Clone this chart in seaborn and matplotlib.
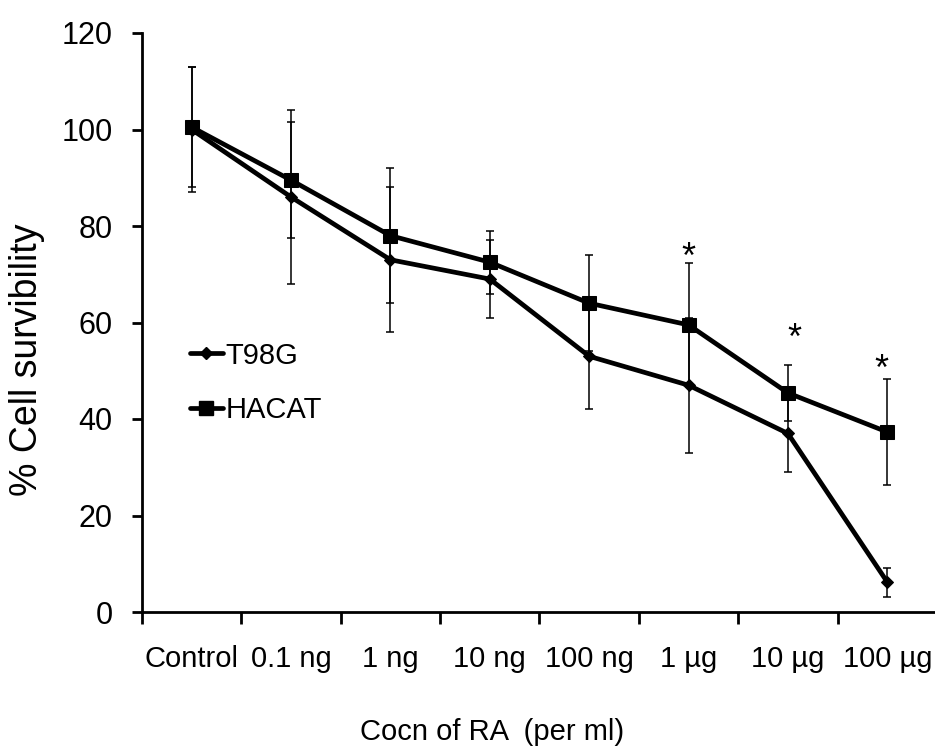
import numpy as np
import pandas as pd
import matplotlib
matplotlib.use("Agg")
import matplotlib.pyplot as plt
import seaborn as sns
from matplotlib.lines import Line2D

categories = ["Control", "0.1 ng", "1 ng", "10 ng", "100 ng", "1 µg", "10 µg", "100 µg"]
t98g = [100, 86, 73, 69, 53, 47, 37, 6.2]
t98g_err = [13, 18, 15, 8, 11, 14, 8, 3]
hacat = [100.5, 89.5, 78, 72.5, 64, 59.5, 45.4, 37.3]
hacat_err = [12.5, 12, 14, 6.5, 10, 12.8, 5.8, 11]
star_idx = [5, 6, 7]
star_y = [75.6, 58.9, 52.4]

sns.set_theme(style="white")
plt.rcParams["font.family"] = ["Liberation Sans", "DejaVu Sans"]
for k in ["text.color", "axes.labelcolor", "xtick.color", "ytick.color", "axes.edgecolor"]:
    plt.rcParams[k] = "black"

fig = plt.figure(figsize=(9.35, 7.53), dpi=100)
ax = fig.add_axes([142/935, 141/753, 1 - 142/935, (612-33)/753])

x = np.arange(len(categories))
df = pd.DataFrame({
    "x": np.concatenate([x, x]),
    "y": t98g + hacat,
    "series": ["T98G"] * len(x) + ["HACAT"] * len(x),
})

ax.errorbar(x, t98g, yerr=t98g_err, fmt="none", ecolor="black", elinewidth=1.1, capsize=3, capthick=1.1, zorder=2)
ax.errorbar(x, hacat, yerr=hacat_err, fmt="none", ecolor="black", elinewidth=1.1, capsize=3, capthick=1.1, zorder=2)

sns.lineplot(data=df, x="x", y="y", hue="series", style="series",
             palette={"T98G": "black", "HACAT": "black"},
             markers={"T98G": "D", "HACAT": "s"}, dashes=False,
             markersize=8, linewidth=3.4, markeredgecolor="black",
             legend=False, ax=ax, zorder=3)
for line in ax.get_lines():
    if line.get_marker() == "D":
        line.set_markersize(6.5)
    elif line.get_marker() == "s":
        line.set_markersize(9.5)

star_dx = {5: 0, 6: 4.3, 7: -4.3}
for i, yv in zip(star_idx, star_y):
    ax.annotate("*", (x[i], yv), xytext=(star_dx[i], -15), textcoords="offset points",
                ha="center", va="baseline", fontsize=26, color="black")

ax.set_xlim(-0.48, 7.48)
ax.set_ylim(0, 120)
ax.set_yticks(np.arange(0, 121, 20))
ax.set_xticks(np.arange(-0.5, 7.0, 1.0))
ax.set_xticklabels([])
ax.set_xticks(x, minor=True)
ax.set_xticklabels(categories, minor=True)
ax.tick_params(axis="x", which="major", direction="out", length=8.5, width=2, bottom=True)
ax.tick_params(axis="x", which="minor", length=0, pad=24, labelsize=21)
ax.tick_params(axis="y", direction="out", length=7, width=2, left=True, labelsize=22, pad=14)

for s in ["top", "right"]:
    ax.spines[s].set_visible(False)
for s in ["left", "bottom"]:
    ax.spines[s].set_linewidth(2)

ax.set_xlabel("Cocn of RA  (per ml)", fontsize=21)
ax.set_ylabel("% Cell survibility", fontsize=27)
ax.xaxis.set_label_coords(0.441, -0.183)
ax.yaxis.set_label_coords(-0.122, 0.435)

handles = [
    Line2D([], [], color="black", lw=3.4, marker="D", markersize=6.5),
    Line2D([], [], color="black", lw=3.4, marker="s", markersize=9.5),
]
ax.legend(handles, ["T98G", "HACAT"], loc="center left", bbox_to_anchor=(0.028, 0.396),
          frameon=False, fontsize=21, handlelength=1.1, handletextpad=0.1, labelspacing=0.9)

fig.savefig("out.png", dpi=100)
